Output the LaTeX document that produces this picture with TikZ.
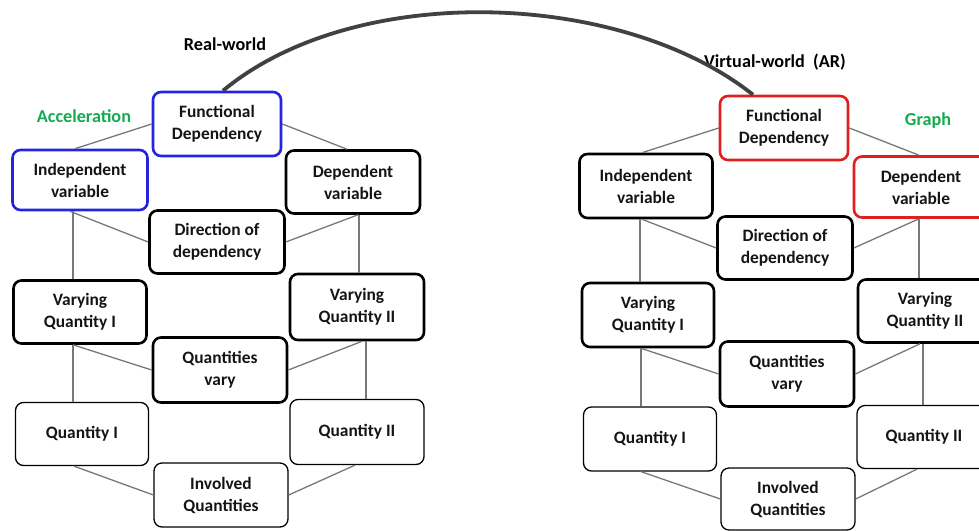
\documentclass[tikz,border=0pt]{standalone}
\usepackage{fontspec}
\setmainfont{Carlito}
\definecolor{bxblue}{RGB}{35,35,225}
\definecolor{bxred}{RGB}{225,30,30}
\definecolor{lblgreen}{RGB}{20,170,80}
\definecolor{conngray}{RGB}{120,120,120}
\definecolor{arcgray}{RGB}{65,65,65}
\begin{document}
\begin{tikzpicture}[x=1pt,y=-1pt,
  box/.style={draw, rounded corners=8pt, align=center, inner sep=0pt,
    minimum width=134pt, minimum height=63pt, text=black!92,
    font=\fontsize{17.4}{22}\selectfont\bfseries},
  thickbox/.style={box, line width=2.6pt},
  thinbox/.style={box, line width=1.3pt},
  bluebox/.style={thickbox, draw=bxblue},
  redbox/.style={thickbox, draw=bxred},
  conn/.style={draw=conngray, line width=1.3pt},
  lbl/.style={font=\fontsize{18.2}{22}\selectfont\bfseries, inner sep=0pt},
  greenlbl/.style={lbl, text=lblgreen}]
\useasboundingbox (0,0) rectangle (979,530);
\clip (0,0) rectangle (979,530);

% ---------- left (real world) ----------
\node[bluebox, minimum width=128pt, minimum height=64pt] (fdL) at (217,124) {Functional\\Dependency};
\node[bluebox, minimum width=135pt, minimum height=60pt] (inL) at (80,180) {Independent\\variable};
\node[thickbox] (deL) at (353,182) {Dependent\\variable};
\node[thickbox, minimum width=135pt] (diL) at (217,242) {Direction of\\dependency};
\node[thickbox, minimum width=133pt] (vqaL) at (80,312) {Varying\\Quantity I};
\node[thickbox, minimum height=66pt] (vqbL) at (357,307) {Varying\\Quantity II};
\node[thickbox, minimum height=65pt] (qvL) at (220,370) {Quantities\\vary};
\node[thinbox, minimum width=133pt] (qaL) at (82,434) {Quantity I};
\node[thinbox, minimum height=65pt] (qbL) at (357,432) {Quantity II};
\node[thinbox, minimum height=64pt] (iqL) at (221,495) {Involved\\Quantities};

\node[greenlbl] (accL) at (84,116) {Acceleration};
\node[lbl] (rwL) at (225,44) {Real-world};

% ---------- right (virtual world) ----------
\node[redbox, minimum width=128pt, minimum height=64pt] (fdR) at (784,128) {Functional\\Dependency};
\node[thickbox, minimum width=133pt, minimum height=64pt] (inR) at (646,186) {Independent\\variable};
\node[redbox, minimum height=61pt] (deR) at (921,187) {Dependent\\variable};
\node[thickbox, minimum width=135pt] (diR) at (785,248) {Direction of\\dependency};
\node[thickbox, minimum width=132pt, minimum height=64pt] (vqaR) at (648,315) {Varying\\Quantity I};
\node[thickbox] (vqbR) at (925,311) {Varying\\Quantity II};
\node[thickbox, minimum height=65pt] (qvR) at (787,374) {Quantities\\vary};
\node[thinbox, minimum width=133pt, minimum height=64pt] (qaR) at (650,439) {Quantity I};
\node[thinbox] (qbR) at (924,437) {Quantity II};
\node[thinbox, minimum height=62pt] (iqR) at (788,499) {Involved\\Quantities};

\node[greenlbl] (grR) at (928,121) {Graph};
\node[lbl] (vwR) at (775,62) {Virtual-world~~(AR)};

% ---------- connectors left ----------
\draw[conn] (fdL.west) -- ([xshift=-5pt]inL.north);
\draw[conn] (fdL.east) -- ([xshift=-6pt]deL.north);
\draw[conn] ([xshift=-10pt]inL.south) -- (diL.west);
\draw[conn] ([xshift=5pt]deL.south) -- (diL.east);
\draw[conn] ([xshift=-7pt]inL.south) -- ([xshift=-7pt]inL.south |- vqaL.north);
\draw[conn] ([xshift=6pt]deL.south) -- ([xshift=6pt]deL.south |- vqbL.north);
\draw[conn] ([xshift=-7pt]vqaL.south) -- (qvL.west);
\draw[conn] ([xshift=5pt]vqbL.south) -- (qvL.east);
\draw[conn] ([xshift=-7pt]vqaL.south) -- ([xshift=-7pt]vqaL.south |- qaL.north);
\draw[conn] ([xshift=9pt]vqbL.south) -- ([xshift=9pt]vqbL.south |- qbL.north);
\draw[conn] ([xshift=-8pt]qaL.south) -- (iqL.west);
\draw[conn] ([xshift=-2pt]qbL.south) -- (iqL.east);

% ---------- connectors right ----------
\draw[conn] (fdR.west) -- ([xshift=-4pt]inR.north);
\draw[conn] (fdR.east) -- ([xshift=-2pt]deR.north);
\draw[conn] ([xshift=-4pt]inR.south) -- (diR.west);
\draw[conn] ([xshift=-2pt]deR.south) -- (diR.east);
\draw[conn] ([xshift=-6pt]inR.south) -- ([xshift=-6pt]inR.south |- vqaR.north);
\draw[conn] ([xshift=-2pt]deR.south) -- ([xshift=-2pt]deR.south |- vqbR.north);
\draw[conn] ([xshift=-7pt]vqaR.south) -- (qvR.west);
\draw[conn] ([xshift=-5pt]vqbR.south) -- (qvR.east);
\draw[conn] ([xshift=-7pt]vqaR.south) -- ([xshift=-7pt]vqaR.south |- qaR.north);
\draw[conn] ([xshift=-2pt]vqbR.south) -- ([xshift=-2pt]vqbR.south |- qbR.north);
\draw[conn] ([xshift=-9pt]qaR.south) -- (iqR.west);
\draw[conn] ([xshift=-7pt]qbR.south) -- (iqR.east);

% ---------- arc between worlds ----------
\draw[draw=arcgray, line width=3.8pt] ([xshift=6pt]fdL.north) .. controls (355,-19) and (621,-10) .. ([xshift=-31pt]fdR.north);
\end{tikzpicture}
\end{document}
